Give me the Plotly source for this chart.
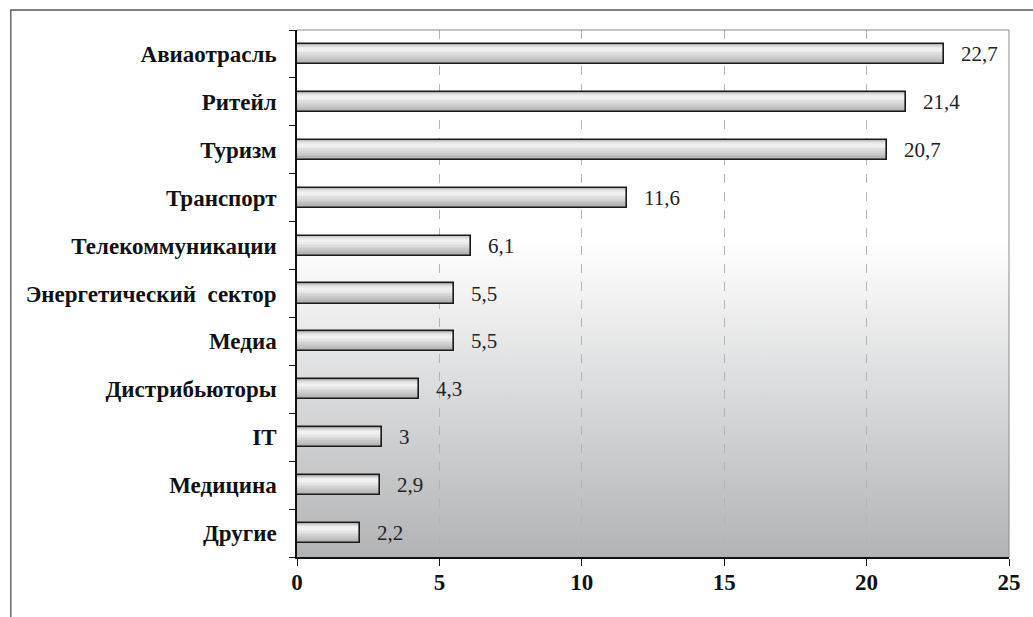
import base64
import plotly.graph_objects as go

# ---- data (top to bottom as shown) ----
categories = ["Авиаотрасль", "Ритейл", "Туризм", "Транспорт", "Телекоммуникации",
              "Энергетический  сектор", "Медиа", "Дистрибьюторы", "IT", "Медицина", "Другие"]
values = [22.7, 21.4, 20.7, 11.6, 6.1, 5.5, 5.5, 4.3, 3.0, 2.9, 2.2]
value_labels = ["22,7", "21,4", "20,7", "11,6", "6,1", "5,5", "5,5", "4,3", "3", "2,9", "2,2"]
x_ticks = [0, 5, 10, 15, 20, 25]

# plot bottom-to-top
cats = categories[::-1]
vals = values[::-1]
labs = value_labels[::-1]

W, H = 1033, 617
L, R, T, B = 297, 22, 30, 60
PW, PH = W - L - R, H - T - B

fig = go.Figure()

# gradient layers inside bars (span low..high in category units)
layers = [(-0.21, 0.21, "#a8a8a8"), (-0.18, 0.20, "#b4b4b4"), (-0.14, 0.195, "#bfbfbf"),
          (-0.10, 0.19, "#c9c9c9"), (-0.06, 0.18, "#d3d3d3"), (-0.02, 0.17, "#dcdcdc"),
          (0.01, 0.155, "#e4e4e4"), (0.04, 0.14, "#ebebeb"), (0.065, 0.12, "#f1f1f1")]
for lo, hi, col in layers:
    fig.add_trace(go.Bar(y=cats, x=vals, orientation="h", width=hi - lo, offset=lo,
                         marker=dict(color=col, line=dict(width=0)),
                         hoverinfo="skip", showlegend=False))
# outline
fig.add_trace(go.Bar(y=cats, x=vals, orientation="h", width=0.42, offset=-0.21,
                     marker=dict(color="rgba(0,0,0,0)", line=dict(color="#1a1a1a", width=1.6)),
                     showlegend=False))

for c, v, t in zip(cats, vals, labs):
    fig.add_annotation(x=v, y=c, text=t, showarrow=False, xanchor="left", xshift=15,
                       font=dict(family="Liberation Serif", size=21, color="#222"))

# background gradient
svg = ('<svg xmlns="http://www.w3.org/2000/svg" width="100" height="100" preserveAspectRatio="none">'
       '<defs><linearGradient id="g" x1="0" y1="0" x2="0" y2="1">'
       '<stop offset="0" stop-color="#ffffff"/><stop offset="0.4" stop-color="#ffffff"/>'
       '<stop offset="1" stop-color="#b1b3b5"/></linearGradient></defs>'
       '<rect width="100" height="100" fill="url(#g)"/></svg>')
uri = "data:image/svg+xml;base64," + base64.b64encode(svg.encode()).decode()
fig.add_layout_image(source=uri, xref="paper", yref="paper", x=0, y=1, sizex=1, sizey=1,
                     xanchor="left", yanchor="top", sizing="stretch", layer="below")

# plot border top/right
fig.add_shape(type="line", xref="paper", yref="paper", x0=0, x1=1, y0=1, y1=1,
              line=dict(color="#8a8a8a", width=1))
fig.add_shape(type="line", xref="paper", yref="paper", x0=1, x1=1, y0=0, y1=1,
              line=dict(color="#8a8a8a", width=1))
# outer chart border
fig.add_shape(type="rect", xref="paper", yref="paper",
              x0=(10 - L) / PW, x1=(1045 - L) / PW,
              y0=-(640 - (H - B)) / PH, y1=((H - B) - 10) / PH,
              line=dict(color="#555", width=1.3), fillcolor="rgba(0,0,0,0)")

fig.update_layout(
    width=W, height=H, margin=dict(l=L, r=R, t=T, b=B),
    paper_bgcolor="white", plot_bgcolor="rgba(0,0,0,0)",
    barmode="overlay", bargap=0,
    xaxis=dict(range=[0, 25], tickvals=x_ticks, ticktext=[str(v) for v in x_ticks],
               showgrid=True, gridcolor="#b4b4b4", griddash="dash", gridwidth=1,
               showline=True, linecolor="#111", linewidth=1.5,
               ticks="outside", ticklen=7, tickcolor="#111", tickwidth=1.3,
               ticklabelstandoff=-3,
               tickfont=dict(family="Liberation Serif", size=23, color="#111", weight="bold"),
               zeroline=False, fixedrange=True),
    yaxis=dict(type="category", categoryorder="array", categoryarray=cats,
               showgrid=False, showline=True, linecolor="#111", linewidth=1.5,
               ticks="outside", ticklen=6, tickcolor="#111", tickwidth=1.3, tickson="boundaries",
               ticklabelstandoff=14,
               tickfont=dict(family="Liberation Serif", size=23, color="#111", weight="bold"),
               fixedrange=True),
)

fig.write_html("out.html")
